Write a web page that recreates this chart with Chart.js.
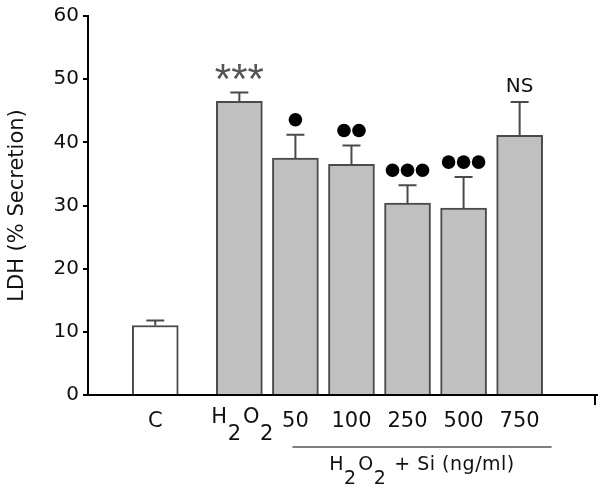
<!DOCTYPE html>
<html lang="en">
<head>
<meta charset="UTF-8">
<title>LDH secretion</title>
<script src="https://cdn.jsdelivr.net/npm/chart.js"></script>
<style>
    body { margin: 0; padding: 0; background: #fff; }
    .wrap { width: 600px; height: 487px; }
</style>
</head>
<body>
<div class="wrap"><canvas id="ldhChart" width="600" height="487"></canvas></div>
<script>
    // values
    const categories = ['C', 'H2O2', '50', '100', '250', '500', '750'];
    const means = [11.0, 46.5, 37.5, 36.5, 30.4, 29.6, 41.1];
    const errors = [0.8, 1.4, 3.7, 3.0, 2.8, 4.9, 5.3];
    const sigMarks = ['', '***', '•', '••', '•••', '•••', 'NS'];
    const yTicks = [0, 10, 20, 30, 40, 50, 60];
    const groupLabel = 'H2O2 + Si (ng/ml)';

    const FONT = '"DejaVu Sans", Arial, sans-serif';

    // control bar sits a bit apart from the treated ones
    const slot = i => i === 0 ? 0 : i + 0.5;

    function isSub(text, k) {
        return text[k] === '2' && (text[k - 1] === 'H' || text[k - 1] === 'O');
    }
    function chemWidth(ctx, text, size) {
        ctx.font = size + 'px ' + FONT;
        let w = 0;
        for (let k = 0; k < text.length; k++) w += ctx.measureText(text[k]).width + (isSub(text, k) ? 2 : 0.5);
        return w;
    }
    // draws "H2O2..." with lowered 2s, starting at x (left aligned)
    function drawChem(ctx, text, x, y, size, drop) {
        ctx.font = size + 'px ' + FONT;
        ctx.textAlign = 'left';
        ctx.textBaseline = 'alphabetic';
        let cx = x;
        for (let k = 0; k < text.length; k++) {
            const sub = isSub(text, k);
            ctx.fillText(text[k], cx, sub ? y + drop : y);
            cx += ctx.measureText(text[k]).width + (sub ? 2 : 0.5);
        }
    }

    const extras = {
        id: 'extras',
        afterDatasetsDraw(chart) {
            const ctx = chart.ctx;
            const xs = chart.scales.x, ys = chart.scales.y;
            ctx.save();

            // upward error bars
            ctx.strokeStyle = '#4a4a4a';
            ctx.lineWidth = 2;
            means.forEach((m, i) => {
                const px = xs.getPixelForValue(slot(i));
                const top = ys.getPixelForValue(m + errors[i]);
                const base = ys.getPixelForValue(m);
                ctx.beginPath();
                ctx.moveTo(px, base);
                ctx.lineTo(px, top);
                ctx.moveTo(px - 9, top);
                ctx.lineTo(px + 9, top);
                ctx.stroke();
            });

            // significance marks
            sigMarks.forEach((s, i) => {
                if (!s) return;
                const px = xs.getPixelForValue(slot(i));
                const top = ys.getPixelForValue(means[i] + errors[i]);
                if (s[0] === '•') {
                    ctx.fillStyle = '#000';
                    const n = s.length;
                    for (let d = 0; d < n; d++) {
                        const dx = px + (d - (n - 1) / 2) * 15;
                        ctx.beginPath();
                        ctx.arc(dx, top - 15, 6.8, 0, Math.PI * 2);
                        ctx.fill();
                    }
                } else if (s === 'NS') {
                    ctx.fillStyle = '#111';
                    ctx.font = '20px ' + FONT;
                    ctx.textAlign = 'center';
                    ctx.textBaseline = 'middle';
                    ctx.fillText(s, px, top - 15);
                } else {
                    ctx.fillStyle = '#555';
                    ctx.font = '42px "Liberation Sans", Arial, sans-serif';
                    ctx.textAlign = 'center';
                    ctx.textBaseline = 'alphabetic';
                    ctx.fillText(s, px, top + 1);
                }
            });

            // H2O2 tick label with subscripts
            ctx.fillStyle = '#111';
            const hx = xs.getPixelForValue(slot(1));
            drawChem(ctx, categories[1], hx - 28, 423, 21, 17);

            // right end hook of the x axis
            ctx.strokeStyle = '#000';
            ctx.lineWidth = 2;
            ctx.beginPath();
            ctx.moveTo(xs.right - 2, ys.bottom);
            ctx.lineTo(xs.right - 2, ys.bottom + 10);
            ctx.stroke();

            // group bracket + label
            const x0 = xs.getPixelForValue(slot(2)) - 3;
            const x1 = xs.getPixelForValue(slot(6)) + 32;
            ctx.strokeStyle = '#555';
            ctx.lineWidth = 1.5;
            ctx.beginPath();
            ctx.moveTo(x0, 447);
            ctx.lineTo(x1, 447);
            ctx.stroke();
            const gw = chemWidth(ctx, groupLabel, 19);
            ctx.fillStyle = '#111';
            drawChem(ctx, groupLabel, (x0 + x1) / 2 - gw / 2, 470, 19, 14);

            ctx.restore();
        }
    };

    new Chart(document.getElementById('ldhChart').getContext('2d'), {
        type: 'bar',
        data: {
            datasets: [{
                data: means.map((m, i) => ({ x: slot(i), y: m })),
                backgroundColor: ctx => ctx.dataIndex === 0 ? '#ffffff' : '#c0c0c0',
                borderColor: '#4a4a4a',
                borderWidth: 2,
                borderSkipped: 'bottom',
                barThickness: 46
            }]
        },
        options: {
            responsive: false,
            animation: false,
            layout: { padding: { top: 12, right: 3, left: 0, bottom: 0 } },
            plugins: { legend: { display: false }, tooltip: { enabled: false } },
            scales: {
                x: {
                    type: 'linear',
                    offset: false,
                    min: -1.2,
                    max: 7.88,
                    afterFit: s => { s.height = 92; },
                    afterBuildTicks: s => { s.ticks = categories.map((c, i) => ({ value: slot(i) })); },
                    grid: { display: false },
                    border: { display: true, color: '#000', width: 2 },
                    ticks: {
                        autoSkip: false,
                        maxRotation: 0,
                        padding: 6,
                        color: '#111',
                        font: { family: FONT, size: 21 },
                        callback: (v, i) => categories[i] === 'H2O2' ? '' : categories[i]
                    }
                },
                y: {
                    min: 0,
                    max: 60,
                    afterFit: s => { s.width = 88; },
                    afterBuildTicks: s => { s.ticks = yTicks.map(v => ({ value: v })); },
                    grid: { drawOnChartArea: false, drawTicks: true, tickLength: 5, color: '#000', lineWidth: 2 },
                    border: { display: true, color: '#000', width: 2 },
                    ticks: { padding: 4, color: '#111', font: { family: FONT, size: 20 } },
                    title: {
                        display: true,
                        text: 'LDH (% Secretion)',
                        color: '#111',
                        font: { family: FONT, size: 21 },
                        padding: { top: 5, bottom: 0 }
                    }
                }
            }
        },
        plugins: [extras]
    });
</script>
</body>
</html>
